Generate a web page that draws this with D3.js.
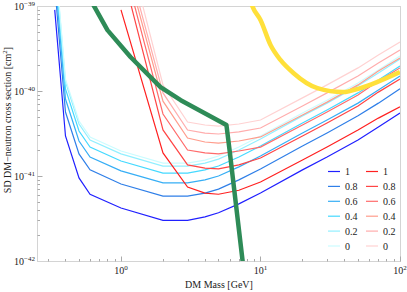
<!DOCTYPE html>
<html>
<head>
<meta charset="utf-8">
<script src="https://cdn.jsdelivr.net/npm/d3@7"></script>
<style>
  body { margin: 0; background: #fff; }
  text { font-family: "Liberation Serif", "DejaVu Serif", serif; fill: #222; }
</style>
</head>
<body>
<svg width="407" height="292"></svg>
<script>
// masses in GeV, cross sections in cm^2
const blueMass = [0.335, 0.4, 0.5, 0.6, 1, 2, 3, 4, 5, 7, 10, 20, 30, 50, 70, 100];
const blue1  = [9.0e-40, 2.96e-41, 9.5e-42, 6.1e-42, 4.2e-42, 3.0e-42, 3.0e-42, 3.3e-42, 3.7e-42, 4.7e-42, 6.3e-42, 1.18e-41, 1.67e-41, 2.65e-41, 3.77e-41, 5.5e-41];
const blue08 = [1.72e-39, 5.66e-41, 1.82e-41, 1.18e-41, 8.05e-42, 5.8e-42, 5.8e-42, 6.3e-42, 7.0e-42, 9.0e-42, 1.21e-41, 2.25e-41, 3.2e-41, 5.1e-41, 7.2e-41, 1.06e-40];
const blue06 = [2.44e-39, 8.05e-41, 2.58e-41, 1.67e-41, 1.15e-41, 8.3e-42, 8.3e-42, 9.0e-42, 1.0e-41, 1.28e-41, 1.72e-41, 3.2e-41, 4.56e-41, 7.2e-41, 1.03e-40, 1.5e-40];
const blue04 = [3.2e-39, 1.06e-40, 3.38e-41, 2.19e-41, 1.5e-41, 1.08e-41, 1.08e-41, 1.18e-41, 1.31e-41, 1.67e-41, 2.25e-41, 4.2e-41, 5.97e-41, 9.5e-41, 1.35e-40, 1.97e-40];
const blue02 = [3.87e-39, 1.28e-40, 4.09e-41, 2.65e-41, 1.82e-41, 1.31e-41, 1.31e-41, 1.42e-41, 1.58e-41, 2.02e-41, 2.72e-41, 5.1e-41, 7.2e-41, 1.15e-40, 1.63e-40, 2.38e-40];
const blue0  = [4.2e-39, 1.38e-40, 4.44e-41, 2.88e-41, 1.97e-41, 1.42e-41, 1.42e-41, 1.54e-41, 1.72e-41, 2.19e-41, 2.96e-41, 5.5e-41, 7.8e-41, 1.24e-40, 1.77e-40, 2.58e-40];

const redMass = [1, 2, 3, 4, 5, 7, 10, 20, 30, 50, 70, 100];
const red1  = [9.0e-40, 1.87e-41, 7.4e-42, 6.3e-42, 6.1e-42, 6.8e-42, 8.5e-42, 1.54e-41, 2.19e-41, 3.48e-41, 4.8e-41, 6.5e-41];
const red08 = [2.96e-39, 3.48e-41, 1.35e-41, 1.24e-41, 1.21e-41, 1.35e-41, 1.63e-41, 2.96e-41, 4.2e-41, 6.67e-41, 9.7e-41, 1.38e-40];
const red06 = [4.1e-39, 5.36e-41, 2.02e-41, 1.87e-41, 1.82e-41, 1.97e-41, 2.19e-41, 3.98e-41, 5.66e-41, 8.97e-41, 1.31e-40, 1.87e-40];
const red04 = [5.2e-39, 7.6e-41, 2.8e-41, 2.51e-41, 2.44e-41, 2.58e-41, 2.88e-41, 5.22e-41, 7.4e-41, 1.18e-40, 1.72e-40, 2.44e-40];
const red02 = [6.5e-39, 9.5e-41, 3.48e-41, 3.2e-41, 3.12e-41, 3.3e-41, 3.67e-41, 6.67e-41, 9.5e-41, 1.5e-40, 2.13e-40, 3.03e-40];
const red0  = [1.0e-38, 1.18e-40, 4.32e-41, 3.98e-41, 3.87e-41, 4.09e-41, 4.56e-41, 8.3e-41, 1.18e-40, 1.87e-40, 2.65e-40, 3.77e-40];

const greenMass  = [0.62, 0.8, 1.17, 1.92, 2.68, 5.7, 6.0, 7.5];
const greenSigma = [1.1e-39, 5.2e-40, 2.51e-40, 1.11e-40, 7.8e-41, 3.98e-41, 2.02e-41, 9e-43];

const yellowMass  = [8.4, 8.8, 10, 11.8, 13.9, 17.2, 25.6, 39, 52, 69, 100];
const yellowSigma = [1.2e-39, 9.7e-40, 6.85e-40, 3.48e-40, 2.32e-40, 1.63e-40, 1.08e-40, 9.7e-41, 1.08e-40, 1.28e-40, 1.67e-40];

const fractions = ["1", "0.8", "0.6", "0.4", "0.2", "0"];
const blueSeries = [blue1, blue08, blue06, blue04, blue02, blue0];
const redSeries = [red1, red08, red06, red04, red02, red0];
const blueColors = ["#2020ff", "#2f7fe8", "#36aef5", "#45d9ff", "#92efff", "#cbfcff"];
const redColors = ["#ff2020", "#ff4545", "#ff6b6b", "#ff9d8d", "#ffadad", "#ffd2d2"];

const xTicks = [1, 10, 100];
const yTicks = [1e-42, 1e-41, 1e-40, 1e-39];

const svg = d3.select("svg");
const plotL = 37, plotR = 400, plotT = 6, plotB = 261;

const x = d3.scaleLog().domain([0.25, 100]).range([plotL, plotR]);
const y = d3.scaleLog().domain([1e-42, 1e-39]).range([plotB, plotT]);

svg.append("clipPath")
    .attr("id", "plot")
  .append("rect")
    .attr("x", plotL)
    .attr("y", plotT)
    .attr("width", plotR - plotL)
    .attr("height", plotB - plotT);

// frame
svg.append("rect")
    .attr("x", plotL + 0.5)
    .attr("y", plotT + 0.5)
    .attr("width", plotR - plotL)
    .attr("height", plotB - plotT)
    .attr("fill", "none")
    .attr("stroke", "#d4d4d4");

// minor/major ticks, drawn inward
const xMinor = x.ticks();
const yMinor = y.ticks();
const isMajor = (list, d) => list.some(t => Math.abs(t / d - 1) < 1e-6);

svg.append("g")
  .selectAll("line")
  .data(xMinor)
  .join("line")
    .attr("x1", d => Math.round(x(d)) + 0.5)
    .attr("x2", d => Math.round(x(d)) + 0.5)
    .attr("y1", plotB + 0.5)
    .attr("y2", d => plotB + 0.5 - (isMajor(xTicks, d) ? 5 : 2.5))
    .attr("stroke", "#aaa");

svg.append("g")
  .selectAll("line")
  .data(yMinor)
  .join("line")
    .attr("y1", d => Math.round(y(d)) + 0.5)
    .attr("y2", d => Math.round(y(d)) + 0.5)
    .attr("x1", plotL + 0.5)
    .attr("x2", d => plotL + 0.5 + (isMajor(yTicks, d) ? 5 : 2.5))
    .attr("stroke", "#aaa");

// tick labels
const xLab = svg.append("g")
  .selectAll("text")
  .data(xTicks)
  .join("text")
    .attr("x", d => x(d))
    .attr("y", 274)
    .attr("text-anchor", "middle")
    .attr("font-size", 10);
xLab.append("tspan").text("10");
xLab.append("tspan")
    .attr("dy", -4)
    .attr("font-size", 7)
    .text(d => Math.round(Math.log10(d)));

const yLab = svg.append("g")
  .selectAll("text")
  .data(yTicks)
  .join("text")
    .attr("x", 35)
    .attr("y", d => y(d) + 3.5)
    .attr("text-anchor", "end")
    .attr("font-size", 10);
yLab.append("tspan").text("10");
yLab.append("tspan")
    .attr("dy", -4)
    .attr("font-size", 7)
    .text(d => "\u2212" + Math.round(-Math.log10(d)));

// axis titles
svg.append("text")
    .attr("x", 219)
    .attr("y", 288)
    .attr("text-anchor", "middle")
    .attr("font-size", 10)
    .text("DM Mass [GeV]");

const yTitle = svg.append("text")
    .attr("transform", "translate(11, 120) rotate(-90)")
    .attr("text-anchor", "middle")
    .attr("font-size", 10);
yTitle.append("tspan").text("SD DM\u2212neutron cross section [cm");
yTitle.append("tspan").attr("dy", -4).attr("font-size", 7).text("2");
yTitle.append("tspan").attr("dy", 4).text("]");

// curves
const line = d3.line()
    .x(d => x(d[0]))
    .y(d => y(d[1]));

const curves = svg.append("g").attr("clip-path", "url(#plot)");

blueSeries.forEach((s, i) => {
  curves.append("path")
      .attr("d", line(d3.zip(blueMass, s)))
      .attr("fill", "none")
      .attr("stroke", blueColors[i])
      .attr("stroke-width", 1.2);
});

redSeries.forEach((s, i) => {
  curves.append("path")
      .attr("d", line(d3.zip(redMass, s)))
      .attr("fill", "none")
      .attr("stroke", redColors[i])
      .attr("stroke-width", 1.2);
});

curves.append("path")
    .attr("d", line.curve(d3.curveMonotoneX)(d3.zip(yellowMass, yellowSigma)))
    .attr("fill", "none")
    .attr("stroke", "#ffe03a")
    .attr("stroke-width", 4.5);

curves.append("path")
    .attr("d", line.curve(d3.curveLinear)(d3.zip(greenMass, greenSigma)))
    .attr("fill", "none")
    .attr("stroke", "#2e8b57")
    .attr("stroke-width", 4.5)
    .attr("stroke-linejoin", "round");

// legend
const legend = svg.append("g");
[[blueColors, 328], [redColors, 366]].forEach(([colors, lx]) => {
  const rows = legend.append("g")
    .selectAll("g")
    .data(fractions)
    .join("g")
      .attr("transform", (d, i) => `translate(${lx}, ${171.5 + i * 14.9})`);
  rows.append("line")
      .attr("x1", 0)
      .attr("x2", 12)
      .attr("stroke", (d, i) => colors[i])
      .attr("stroke-width", 1.2);
  rows.append("text")
      .attr("x", 17)
      .attr("y", 3.5)
      .attr("font-size", 10)
      .text(d => d);
});
</script>
</body>
</html>
